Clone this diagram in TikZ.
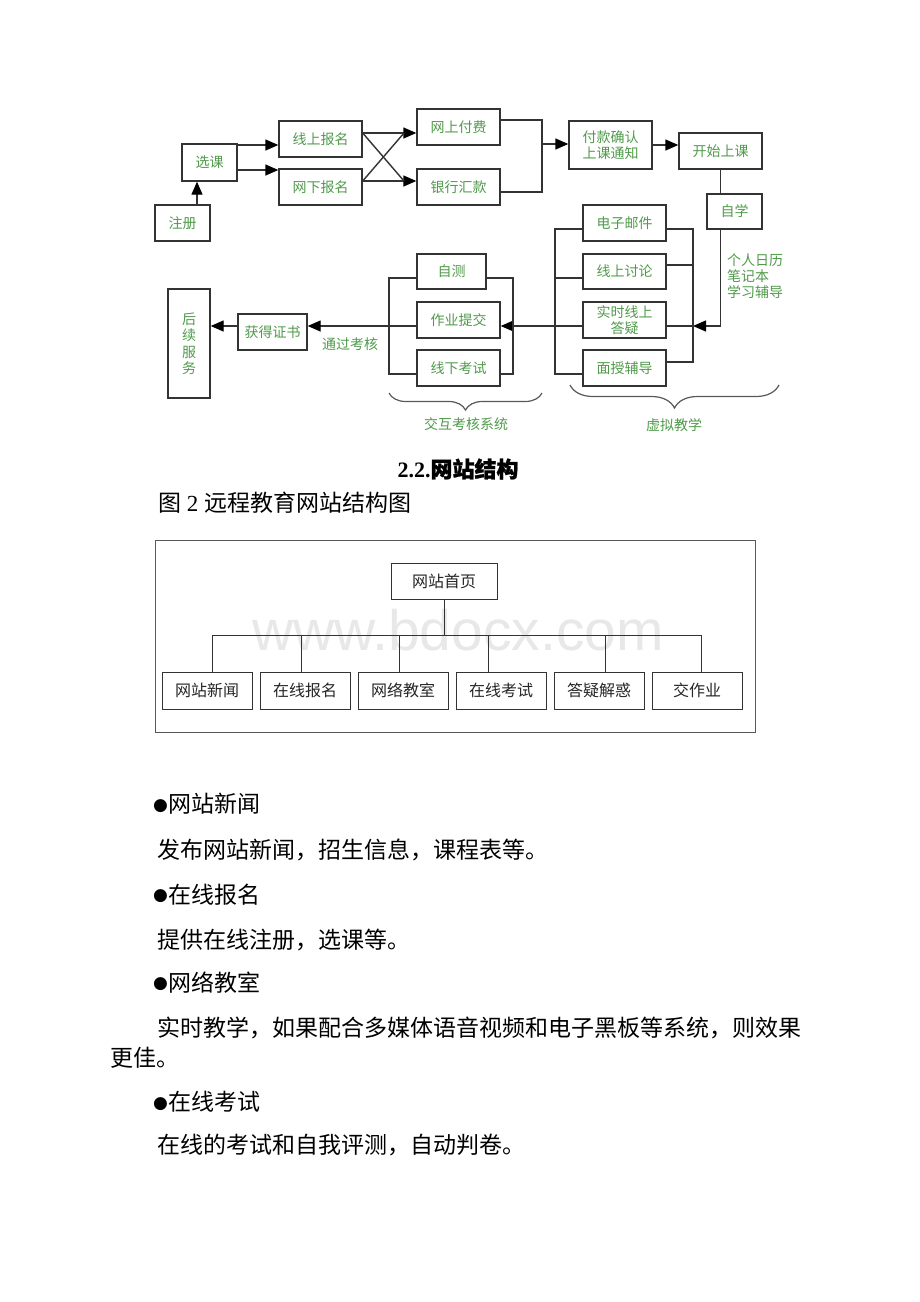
\documentclass[tikz,border=0pt]{standalone}
\usepackage{fontspec}
\setmainfont{Liberation Serif}
\newfontfamily\cjk{Noto Sans CJK SC}
\newfontfamily\cjkbf[FakeBold=1]{Noto Sans CJK SC}
\newfontfamily\bulletfont{DejaVu Sans}
\newfontfamily\wmark{Liberation Sans}
\usetikzlibrary{arrows.meta,decorations.pathreplacing}
\definecolor{lblgreen}{RGB}{80,155,75}
\newcommand\blt{\raisebox{2.5pt}{\bulletfont\fontsize{17}{17}\selectfont ●}}

\tikzset{
    box/.style={draw=black!80,line width=1.4pt,inner sep=0pt,align=center,text=lblgreen,font=\cjk\fontsize{14}{16}\selectfont},
    lbl/.style={text=lblgreen,inner sep=0pt,font=\cjk\fontsize{14}{16}\selectfont},
    ln/.style={draw=black!80,line width=1.4pt},
    arr/.style={ln,-{Triangle[length=13pt,width=11pt,color=black]}},
    brc/.style={draw=black!65,line width=1.2pt,decorate,decoration={brace,mirror,amplitude=#1}},
    pagebox/.style={draw=black!80,line width=0.9pt,minimum width=90pt,minimum height=37pt,inner sep=0pt,font=\cjk\fontsize{16}{16}\selectfont,text=black!85},
    thinln/.style={draw=black!80,line width=0.9pt},
    body/.style={anchor=west,inner sep=0pt,font=\cjk\fontsize{23}{23}\selectfont}
}

\begin{document}
\begin{tikzpicture}[x=1pt,y=-1pt]
    \fill[white] (0,0) rectangle (920,1302);
    \useasboundingbox (0,0) rectangle (920,1302);

    \node[box,minimum width=55pt,minimum height=36pt] (zc) at (182.5,223) {注册};
    \node[box,minimum width=55pt,minimum height=37pt] (xk) at (209.5,162.5) {选课};
    \node[box,minimum width=83pt,minimum height=36pt] (xsbm) at (320.5,139) {线上报名};
    \node[box,minimum width=83pt,minimum height=36pt] (wxbm) at (320.5,187) {网下报名};
    \node[box,minimum width=83pt,minimum height=36pt] (wsff) at (458.5,127) {网上付费};
    \node[box,minimum width=83pt,minimum height=36pt] (yhhk) at (458.5,187) {银行汇款};
    \node[box,minimum width=83pt,minimum height=48pt] (fkqr) at (610.5,145) {付款确认\\上课通知};
    \node[box,minimum width=83pt,minimum height=36pt] (ksk) at (720.5,151) {开始上课};
    \node[box,minimum width=55pt,minimum height=35pt] (zx) at (734.5,211.5) {自学};
    \node[box,minimum width=83pt,minimum height=36pt] (dzyj) at (624.5,223) {电子邮件};
    \node[box,minimum width=83pt,minimum height=35pt] (xstl) at (624.5,271.5) {线上讨论};
    \node[box,minimum width=83pt,minimum height=36pt] (ssdy) at (624.5,320) {实时线上\\答疑};
    \node[box,minimum width=83pt,minimum height=36pt] (msfd) at (624.5,368) {面授辅导};
    \node[box,minimum width=69pt,minimum height=35pt] (zc2) at (451.5,271.5) {自测};
    \node[box,minimum width=83pt,minimum height=36pt] (zytj) at (458.5,320) {作业提交};
    \node[box,minimum width=83pt,minimum height=36pt] (xxks) at (458.5,368) {线下考试};
    \node[box,minimum width=69pt,minimum height=36pt] (hdzs) at (272.5,332) {获得证书};
    \node[box,minimum width=42pt,minimum height=109pt,font=\cjk\fontsize{14}{16.5}\selectfont] (hxfw) at (189,343.5) {后\\续\\服\\务};

    \coordinate (zcup) at ([xshift=14.5pt]zc.north);
    \coordinate (cu) at (404,133);
    \coordinate (cd) at (404,181);
    \coordinate (mj) at (542,144);
    \coordinate (vl) at (555,326);
    \coordinate (vr) at (693,326);
    \coordinate (el) at (389,326);
    \coordinate (er) at (513,326);

    \draw[arr] (zcup) -- (zcup |- xk.south);
    \draw[arr] (xk.east |- 0,145) -- (xsbm.west |- 0,145);
    \draw[arr] (xk.east |- 0,170) -- (wxbm.west |- 0,170);
    \draw[arr] (xsbm.east |- cu) -- (wsff.west |- cu);
    \draw[arr] (wxbm.east |- cd) -- (yhhk.west |- cd);
    \draw[ln] (xsbm.east |- cu) -- (cd);
    \draw[ln] (wxbm.east |- cd) -- (cu);
    \draw[ln] (wsff.east |- 0,120) -| (mj |- 0,192) -- (yhhk.east |- 0,192);
    \draw[arr] (mj) -- (fkqr.west |- mj);
    \draw[arr] (fkqr.east |- 0,145) -- (ksk.west |- 0,145);
    \draw[ln] (ksk.south) -- (ksk.south |- zx.north);
    \draw[arr] (ksk.south |- zx.south) |- (vr);
    \draw[ln] (dzyj.east |- 0,229) -| (vr |- 0,362) -- (msfd.east |- 0,362);
    \draw[ln] (xstl.east |- 0,265) -- (vr |- 0,265);
    \draw[ln] (ssdy.east |- vr) -- (vr);
    \draw[ln] (dzyj.west |- 0,229) -| (vl |- 0,374) -- (msfd.west |- 0,374);
    \draw[ln] (xstl.west |- 0,278) -- (vl |- 0,278);
    \draw[ln] (ssdy.west |- vl) -- (vl);
    \draw[arr] (vl) -- (zytj.east |- vl);
    \draw[ln] (zc2.west |- 0,278) -| (el |- 0,374) -- (xxks.west |- 0,374);
    \draw[ln] (zc2.east |- 0,278) -| (er |- 0,374) -- (xxks.east |- 0,374);
    \draw[ln] (zytj.west |- el) -- (el);
    \draw[arr] (el) -- (hdzs.east |- el);
    \draw[arr] (hdzs.west |- el) -- (hxfw.east |- el);

    \node[lbl] (tgkh) at (350,344) {通过考核};
    \node[lbl,align=left,anchor=west] (grrl) at (727,276) {个人日历\\笔记本\\学习辅导};
    \draw[brc=17pt] (389,393) -- (542,393);
    \draw[brc=23pt] (570,385) -- (779,385);
    \node[lbl] (jhkh) at (466,424) {交互考核系统};
    \node[lbl] (xnjx) at (674,425) {虚拟教学};

    \node[font=\fontsize{22}{22}\selectfont\bfseries,inner sep=0pt] (h22) at (458,469) {2.2.{\cjkbf 网站结构}};
    \node[anchor=west,inner sep=0pt,font=\fontsize{23}{23}\selectfont] (cap) at (158,503) {{\cjk 图} 2 {\cjk 远程教育网站结构图}};

    \node[anchor=base,inner sep=0pt,text=black!9,font=\wmark\fontsize{57}{57}\selectfont] (wm) at (458,650) {www.bdocx.com};
    \draw[draw=black!65,line width=0.9pt] (155,540) rectangle (755,732);
    \node[pagebox,minimum width=106pt,minimum height=36pt] (sysy) at (444,581) {网站首页};
    \node[pagebox] (p1) at (207,690.5) {网站新闻};
    \node[pagebox] (p2) at (305,690.5) {在线报名};
    \node[pagebox] (p3) at (403,690.5) {网络教室};
    \node[pagebox] (p4) at (501,690.5) {在线考试};
    \node[pagebox] (p5) at (599,690.5) {答疑解惑};
    \node[pagebox] (p6) at (697,690.5) {交作业};
    \coordinate (bus) at (444,635);
    \draw[thinln] (sysy.south) -- (bus);
    \draw[thinln] (212,635) -- (701,635);
    \foreach \n/\sx in {p1/212,p2/301,p3/399,p4/488,p5/605,p6/701}
        \draw[thinln] (\sx,635) -- (\sx,0 |- \n.north);

    \node[body] (b1) at (153,804) {\blt 网站新闻};
    \node[body] (t1) at (157,850) {发布网站新闻，招生信息，课程表等。};
    \node[body] (b2) at (153,894.5) {\blt 在线报名};
    \node[body] (t2) at (157,939.5) {提供在线注册，选课等。};
    \node[body] (b3) at (153,982.5) {\blt 网络教室};
    \node[body] (t3) at (157,1027.5) {实时教学，如果配合多媒体语音视频和电子黑板等系统，则效果};
    \node[body] (t3b) at (110,1058) {更佳。};
    \node[body] (b4) at (153,1102) {\blt 在线考试};
    \node[body] (t4) at (157,1145.5) {在线的考试和自我评测，自动判卷。};
\end{tikzpicture}
\end{document}
